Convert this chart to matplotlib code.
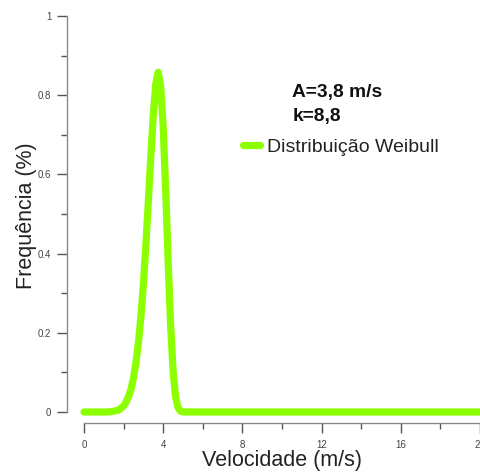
import matplotlib
matplotlib.use("Agg")
import matplotlib.pyplot as plt
from matplotlib.ticker import MultipleLocator

plt.rcParams['font.family'] = ['Liberation Sans', 'DejaVu Sans']

# velocity (m/s) and frequency
velocidade = [0, 1.0, 1.25, 1.5, 1.75, 2.0, 2.125, 2.25, 2.375, 2.5, 2.625, 2.75,
              2.875, 3.0, 3.125, 3.25, 3.375, 3.5, 3.625, 3.75, 3.875, 4.0,
              4.125, 4.25, 4.375, 4.5, 4.625, 4.75, 4.875, 5.0, 6.0, 20.0]
frequencia = [0, 0.0, 0.0004, 0.002, 0.005, 0.015, 0.025, 0.039, 0.058, 0.086,
              0.125, 0.176, 0.241, 0.323, 0.421, 0.532, 0.646, 0.751, 0.828,
              0.858, 0.823, 0.719, 0.561, 0.381, 0.219, 0.103, 0.038, 0.011,
              0.002, 0.0003, 0, 0]

x_ticks = [0, 4, 8, 12, 16, 20]
y_ticks = [0, 0.2, 0.4, 0.6, 0.8, 1]
y_ticklabels = ['0', '0.2', '0.4', '0.6', '0.8', '1']

verde = '#8cff00'

fig = plt.figure(figsize=(4.81, 4.72), dpi=100)
ax = fig.add_axes([84 / 481, 60 / 472, 396 / 481, 396 / 472])

ax.plot(velocidade, frequencia, color=verde, lw=5.2, solid_capstyle='round',
        solid_joinstyle='round', clip_on=False, label='Distribuição Weibull')

ax.set_xlim(0, 20)
ax.set_ylim(0, 1)
ax.set_xticks(x_ticks)
ax.set_yticks(y_ticks)
ax.set_yticklabels(y_ticklabels)
ax.xaxis.set_minor_locator(MultipleLocator(2))
ax.yaxis.set_minor_locator(MultipleLocator(0.1))

for s in ['top', 'right']:
    ax.spines[s].set_visible(False)
ax.spines['left'].set_position(('outward', 12))
ax.spines['bottom'].set_position(('outward', 8))
for s in ['left', 'bottom']:
    ax.spines[s].set_color('#8a8a8a')
    ax.spines[s].set_linewidth(1.0)

ax.tick_params(which='major', length=7.5, width=1.0, color='#555555',
               labelsize=7, labelcolor='#444444')
ax.tick_params(which='minor', length=4.3, width=1.0, color='#555555')
ax.tick_params(axis='x', which='major', pad=4.5)
ax.tick_params(axis='y', which='major', pad=4)

ax.set_xlabel('Velocidade (m/s)', fontsize=15.5, color='#222222', va='top')
ax.xaxis.set_label_coords(0.5, -0.095)
ax.set_ylabel('Frequência (%)', fontsize=15.5, color='#222222')
ax.yaxis.set_label_coords(-0.118, 0.497)

fig.text(292 / 481, 1 - 92 / 472, 'A=3,8 m/s', fontsize=13.8, fontweight='bold',
         va='center', ha='left', color='#111111')
fig.text(293 / 481, 1 - 117 / 472, 'k=8,8', fontsize=13.8, fontweight='bold',
         va='center', ha='left', color='#111111')

leg = ax.legend(loc='center left', bbox_to_anchor=(243 / 481, 1 - 147 / 472),
                bbox_transform=fig.transFigure, frameon=False, fontsize=14,
                handlelength=0.85, handletextpad=0.36, borderpad=0,
                borderaxespad=0)
for t in leg.get_texts():
    t.set_color('#222222')

fig.savefig('out.png', dpi=100)
